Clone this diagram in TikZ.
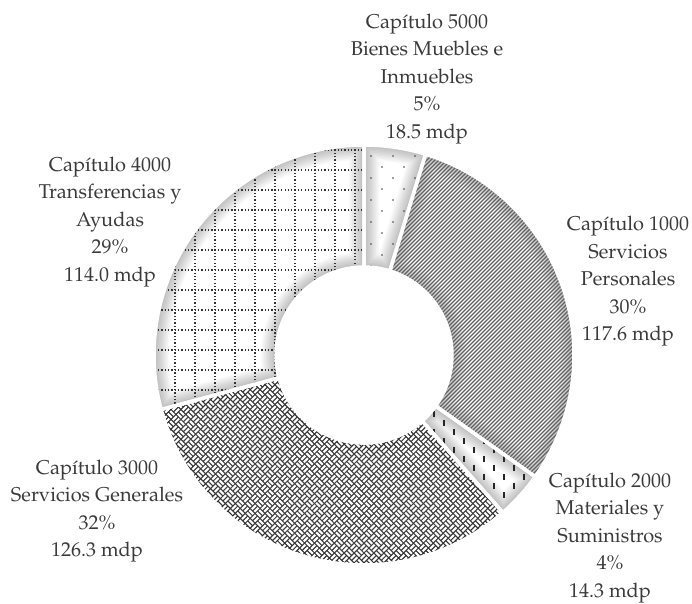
\documentclass[tikz,border=0pt]{standalone}
\usepackage[T1]{fontenc}
\usepackage{mathpazo}
\definecolor{txt}{RGB}{58,58,58}
\newcommand\ringslice[2]{(#1:210) arc[start angle=#1,end angle=#2,radius=210] -- (#2:88) arc[start angle=#2,end angle=#1,radius=88] -- cycle}
\newcommand\innershadow[2]{\foreach \w in {3,6,...,30}{\draw[black,opacity=0.028,line width=\w pt] \ringslice{#1}{#2};}}
\tikzset{
  lbl/.style={text=txt, align=center, font=\fontsize{20}{27.5}\selectfont, inner sep=0pt},
  sep/.style={draw=white, line width=3.5pt, line join=round},
  dotc/.style={fill=black!75},
  stripe/.style={draw=black!62, line width=1.3pt},
  dashc/.style={fill=black!85},
  weavebar/.style={draw=white, line width=2.1pt},
  gridline/.style={draw=black!80, line width=1.3pt, dash pattern=on 1.3pt off 2.03pt}
}
\begin{document}
\begin{tikzpicture}[x=1pt,y=1pt]
\useasboundingbox (-364,-248) rectangle (328,355);
% Cap 5000 : sparse staggered dots
\begin{scope}
  \clip \ringslice{90}{72.95};
  \fill[white] \ringslice{90}{72.95};
  \innershadow{90}{72.95}
  \foreach \i in {0,...,4}{\foreach \j in {0,...,13}{
    \fill[dotc] ({-4+22*\i+11*mod(\j,2)},{78+11*\j}) circle (0.85);}}
\end{scope}
% Cap 1000 : wide upward diagonal stripes
\begin{scope}
  \clip \ringslice{72.95}{-35.41};
  \fill[white] \ringslice{72.95}{-35.41};
  \innershadow{72.95}{-35.41}
  \foreach \c in {-344,-340,...,224}{\draw[stripe] (-10,{\c-10}) -- (220,{\c+220});}
\end{scope}
% Cap 2000 : staggered vertical dashes
\begin{scope}
  \clip \ringslice{-35.41}{-48.59};
  \fill[white] \ringslice{-35.41}{-48.59};
  \innershadow{-35.41}{-48.59}
  \foreach \i in {0,...,13}{\foreach \j in {0,...,7}{
    \fill[dashc] ({50+10*\i-0.8},{-170+18*\j+9*mod(\i,2)}) rectangle ++(1.6,6.5);}}
\end{scope}
% Cap 3000 : weave
\begin{scope}
  \clip \ringslice{-48.59}{-164.96};
  \fill[black!75] \ringslice{-48.59}{-164.96};
  \innershadow{-48.59}{-164.96}
  \begin{scope}[rotate=45]
  \foreach \i in {-16,...,16}{\foreach \j in {-16,...,16}{
    \begin{scope}[shift={(14*\i,14*\j)}]
    \draw[weavebar] (0.7,1.75)--(6.3,1.75) (0.7,5.25)--(6.3,5.25)
      (7.7,8.75)--(13.3,8.75) (7.7,12.25)--(13.3,12.25)
      (8.75,0.7)--(8.75,6.3) (12.25,0.7)--(12.25,6.3)
      (1.75,7.7)--(1.75,13.3) (5.25,7.7)--(5.25,13.3);
    \end{scope}}}
  \end{scope}
\end{scope}
% Cap 4000 : dotted grid
\begin{scope}
  \clip \ringslice{-164.96}{-270};
  \fill[white] \ringslice{-164.96}{-270};
  \innershadow{-164.96}{-270}
  \foreach \k in {0,...,11}{\draw[gridline] ({-209+20*\k},-62) -- ({-209+20*\k},216);}
  \foreach \k in {0,...,13}{\draw[gridline] (-216,{-55+20*\k}) -- (4,{-55+20*\k});}
\end{scope}
% separators
\draw[sep] \ringslice{90}{72.95};
\draw[sep] \ringslice{72.95}{-35.41};
\draw[sep] \ringslice{-35.41}{-48.59};
\draw[sep] \ringslice{-48.59}{-164.96};
\draw[sep] \ringslice{-164.96}{-270};
% labels
\node[lbl] (c5000) at (63,276) {Capítulo 5000\\Bienes Muebles e\\Inmuebles\\5\%\\18.5 mdp};
\node[lbl] (c1000) at (264,73.5) {Capítulo 1000\\Servicios\\Personales\\30\%\\117.6 mdp};
\node[lbl] (c2000) at (246,-183) {Capítulo 2000\\Materiales y\\Suministros\\4\%\\14.3 mdp};
\node[lbl] (c3000) at (-267,-156) {Capítulo 3000\\Servicios Generales\\32\%\\126.3 mdp};
\node[lbl] (c4000) at (-254,133) {Capítulo 4000\\Transferencias y\\Ayudas\\29\%\\114.0 mdp};
\end{tikzpicture}
\end{document}
